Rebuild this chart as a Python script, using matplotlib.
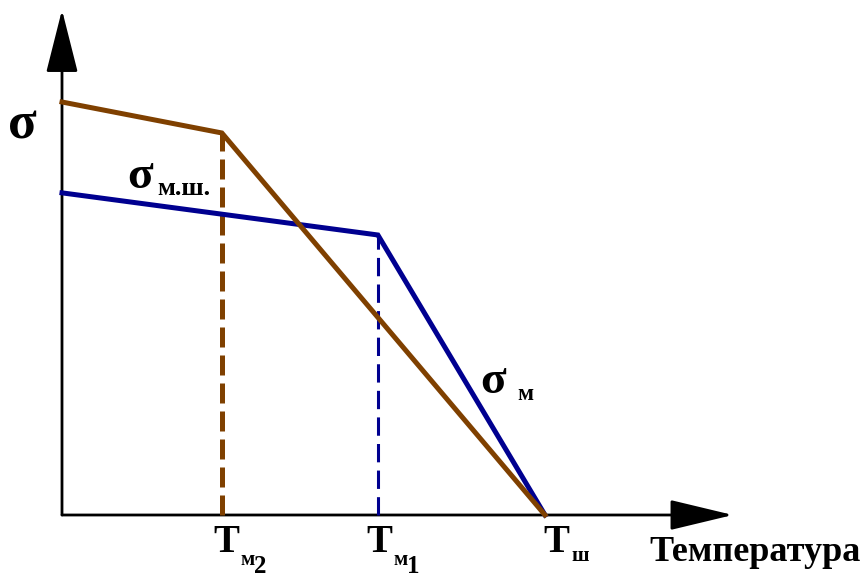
import matplotlib.pyplot as plt
from matplotlib.patches import FancyArrowPatch

# --- data (temperature and stress in relative units, Tш = 1, start of upper curve = 1)
T_m2 = 0.331
T_m1 = 0.654
T_sh = 1.0

brown_T = [0.0, T_m2, T_sh]
brown_sigma = [1.0, 0.925, 0.0]

blue_T = [0.0, T_m1, T_sh]
blue_sigma = [0.78, 0.678, 0.0]

x_axis_end = 1.389
y_axis_end = 1.223

tick_T = [T_m2, T_m1, T_sh]
tick_sub = ['м', 'м', 'ш']
tick_subsub = ['2', '1', '']

BROWN = '#7f4000'
BLUE = '#000090'
SERIF = 'Liberation Serif'

fig = plt.figure(figsize=(8.66, 5.78), dpi=100)
ax = fig.add_axes([0, 0, 1, 1])
ax.set_xlim(-62 / 483, 804 / 483)
ax.set_ylim(-63 / 413, 515 / 413)
ax.axis('off')

# axes with arrows
for end in [(x_axis_end, 0), (0, y_axis_end)]:
    hl = 39.6
    hw = 10.0 if end[0] == 0 else 9.5
    arr = FancyArrowPatch((0, 0), end, arrowstyle=f'-|>,head_length={hl},head_width={hw}',
                          mutation_scale=1, shrinkA=0, shrinkB=0, lw=2, color='black',
                          transform=ax.transData)
    ax.add_patch(arr)

# dashed verticals
ax.plot([T_m1, T_m1], [0, blue_sigma[1]], color=BLUE, lw=2.2, dashes=(6, 2.7))
ax.plot([T_m2, T_m2], [0, brown_sigma[1]], color=BROWN, lw=3.6, dashes=(4, 1.6))

# curves
ax.plot(blue_T, blue_sigma, color=BLUE, lw=3.6, solid_joinstyle='miter')
ax.plot(brown_T, brown_sigma, color=BROWN, lw=3.6, solid_joinstyle='miter')

# labels on the temperature axis
offsets = [(4, 0), (1, 0), (11, 0)]
for t, sub, subsub, (dx, dy) in zip(tick_T, tick_sub, tick_subsub, offsets):
    k = 0.72
    ax.annotate('T', xy=(t, 0), xytext=(dx * k, -37 * k), textcoords='offset points',
                ha='center', va='baseline', fontsize=28, fontweight='bold', family=SERIF)
    sub_dy = -50 if subsub else -46
    ax.annotate(sub, xy=(t, 0), xytext=((dx + 15) * k, sub_dy * k), textcoords='offset points',
                ha='left', va='baseline', fontsize=15, fontweight='bold', family=SERIF)
    if subsub:
        ax.annotate(subsub, xy=(t, 0), xytext=((dx + 28) * k, -58 * k), textcoords='offset points',
                    ha='left', va='baseline', fontsize=18, fontweight='bold', family=SERIF)

ax.text(1.434, -0.111, 'Температура', ha='center', va='baseline',
        fontsize=26, fontweight='bold', family=SERIF)

# stress labels
ax.text(-0.083, 0.944, 'σ', ha='center', va='center', fontsize=38, fontweight='bold', family=SERIF)
ax.text(0.135, 0.792, 'σ', ha='left', va='baseline', fontsize=34, fontweight='bold', family=SERIF)
ax.text(0.197, 0.775, 'м.ш.', ha='left', va='baseline', fontsize=19, fontweight='bold', family=SERIF)
ax.text(0.866, 0.295, 'σ', ha='left', va='baseline', fontsize=34, fontweight='bold', family=SERIF)
ax.text(0.942, 0.278, 'м', ha='left', va='baseline', fontsize=17, fontweight='bold', family=SERIF)

fig.savefig('out.png', dpi=100)
